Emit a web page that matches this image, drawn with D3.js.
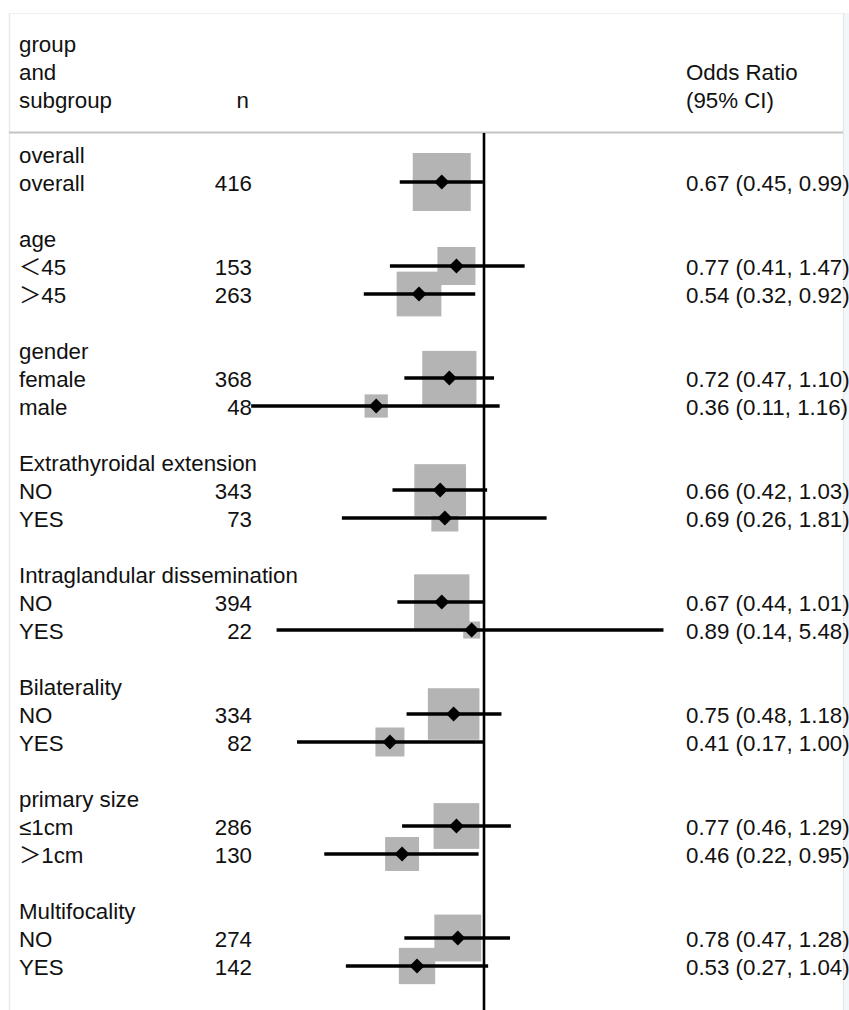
<!DOCTYPE html>
<html>
<head>
<meta charset="utf-8">
<script src="https://cdn.jsdelivr.net/npm/d3@7"></script>
<style>
  html, body { margin: 0; padding: 0; background: #ffffff; }
  svg { display: block; }
  text { font-family: "Liberation Sans", Arial, Helvetica, "Noto Sans CJK SC", sans-serif; font-size: 22.3px; fill: #111; }
</style>
</head>
<body>
<svg id="chart" width="849" height="1010"></svg>
<script>
// ---- data ----
const groups = ["overall", "age", "gender", "Extrathyroidal extension",
  "Intraglandular dissemination", "Bilaterality", "primary size", "Multifocality"];
const subgroupGroup = [0, 1, 1, 2, 2, 3, 3, 4, 4, 5, 5, 6, 6, 7, 7];
const subgroupLabels = ["overall", "＜45", "＞45", "female", "male", "NO", "YES",
  "NO", "YES", "NO", "YES", "≤1cm", "＞1cm", "NO", "YES"];
const nValues = [416, 153, 263, 368, 48, 343, 73, 394, 22, 334, 82, 286, 130, 274, 142];
const orValues = [0.67, 0.77, 0.54, 0.72, 0.36, 0.66, 0.69, 0.67, 0.89, 0.75, 0.41, 0.77, 0.46, 0.78, 0.53];
const lowerCI = [0.45, 0.41, 0.32, 0.47, 0.11, 0.42, 0.26, 0.44, 0.14, 0.48, 0.17, 0.46, 0.22, 0.47, 0.27];
const upperCI = [0.99, 1.47, 0.92, 1.10, 1.16, 1.03, 1.81, 1.01, 5.48, 1.18, 1.00, 1.29, 0.95, 1.28, 1.04];
const headerLeft = ["group", "and", "subgroup"];
const headerN = "n";
const headerRight = ["Odds Ratio", "(95% CI)"];

// ---- build rows ----
const rows = [];
let idx = 0;
groups.forEach((g, gi) => {
  rows.push({ type: "group", label: g, i: idx++ });
  subgroupLabels.forEach((s, si) => {
    if (subgroupGroup[si] === gi) {
      rows.push({ type: "sub", label: s, n: nValues[si], or: orValues[si],
        lo: lowerCI[si], hi: upperCI[si], i: idx++ });
    }
  });
  if (gi < groups.length - 1) idx++;
});
const subs = rows.filter(r => r.type === "sub");
subs.forEach(r => { r.invSE = 2 * 1.96 / Math.log(r.hi / r.lo); });

// ---- layout ----
const W = 849, H = 1010;
const svg = d3.select("#chart");
const y = d3.scaleLinear().domain([0, idx - 1]).range([154, 966]);
const k = 105.5, x1 = 484;
const x = d3.scaleLog().domain([0.1, 10]).range([x1 - k * Math.LN10, x1 + k * Math.LN10]);
const box = d3.scaleLinear().domain(d3.extent(subs, d => d.invSE)).range([17, 58]);
const base = 9;
const labelX = 19, nX = 252, orX = 686;

// frame
svg.append("rect").attr("x", 0).attr("y", 0).attr("width", W).attr("height", H).attr("fill", "#fff");
svg.append("rect").attr("x", 843.5).attr("y", 13).attr("width", 6).attr("height", H).attr("fill", "#f2f7f9");
svg.append("line").attr("x1", 9).attr("x2", 843).attr("y1", 13.5).attr("y2", 13.5)
  .attr("stroke", "#eef1f1").attr("stroke-width", 1.2);
svg.append("line").attr("x1", 9.5).attr("x2", 9.5).attr("y1", 13).attr("y2", H)
  .attr("stroke", "#e4ecee").attr("stroke-width", 1.5);
svg.append("line").attr("x1", 843.5).attr("x2", 843.5).attr("y1", 13).attr("y2", H)
  .attr("stroke", "#e6e8e8").attr("stroke-width", 1.2);
svg.append("line").attr("x1", 9).attr("x2", 843).attr("y1", 132.5).attr("y2", 132.5)
  .attr("stroke", "#c4c4c4").attr("stroke-width", 2);

// header
headerLeft.forEach((t, j) => {
  svg.append("text").attr("x", labelX).attr("y", y(j - 4) + base + 1).text(t);
});
svg.append("text").attr("x", nX - 3).attr("y", y(-2) + base + 1).attr("text-anchor", "end").text(headerN);
headerRight.forEach((t, j) => {
  svg.append("text").attr("x", orX).attr("y", y(j - 3) + base + 1).text(t);
});

// text columns
const fmt = d3.format(".2f");
svg.append("g").selectAll("text").data(rows).join("text")
  .attr("x", labelX).attr("y", d => y(d.i) + base).text(d => d.label);
svg.append("g").selectAll("text").data(subs).join("text")
  .attr("x", nX).attr("y", d => y(d.i) + base).attr("text-anchor", "end").text(d => d.n);
svg.append("g").selectAll("text").data(subs).join("text")
  .attr("x", orX).attr("y", d => y(d.i) + base)
  .text(d => `${fmt(d.or)} (${fmt(d.lo)}, ${fmt(d.hi)})`);

// boxes
svg.append("g").selectAll("rect").data(subs).join("rect")
  .attr("x", d => x(d.or) - box(d.invSE) / 2)
  .attr("y", d => y(d.i) - box(d.invSE) / 2)
  .attr("width", d => box(d.invSE)).attr("height", d => box(d.invSE))
  .attr("fill", "#b4b4b4");

// reference line
svg.append("line").attr("x1", x(1)).attr("x2", x(1)).attr("y1", 133).attr("y2", H)
  .attr("stroke", "#000").attr("stroke-width", 2.6);

// CI lines
svg.append("g").selectAll("line").data(subs).join("line")
  .attr("x1", d => x(d.lo)).attr("x2", d => x(d.hi))
  .attr("y1", d => y(d.i)).attr("y2", d => y(d.i))
  .attr("stroke", "#000").attr("stroke-width", 3.3);

// diamonds
const diamond = d3.symbol(d3.symbolSquare, 112);
svg.append("g").selectAll("path").data(subs).join("path")
  .attr("d", diamond)
  .attr("transform", d => `translate(${x(d.or)},${y(d.i)}) rotate(45)`)
  .attr("fill", "#000");
</script>
</body>
</html>
